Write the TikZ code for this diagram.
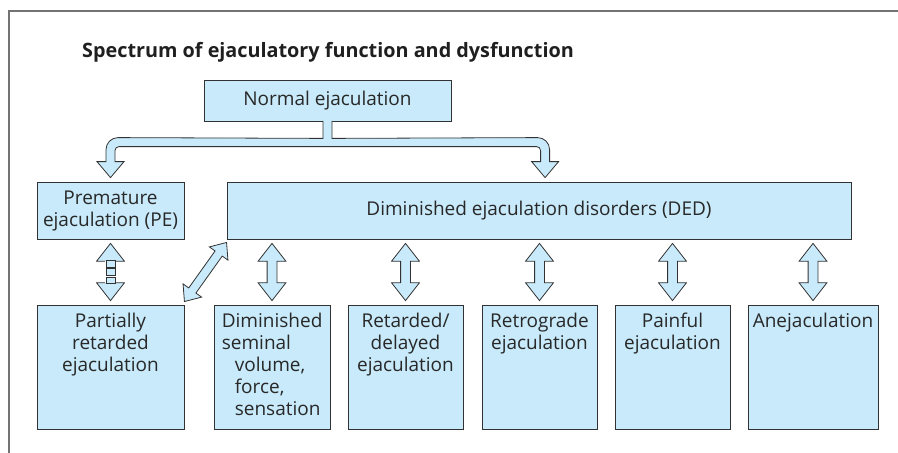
\documentclass[tikz,border=0pt]{standalone}
\usepackage{fontspec}
\setmainfont{Open Sans}
\usetikzlibrary{shapes.arrows,calc}
\definecolor{boxfill}{RGB}{200,234,250}
\definecolor{boxline}{RGB}{50,50,50}
\definecolor{framegray}{RGB}{115,115,115}
\definecolor{txt}{RGB}{40,40,40}
\newcommand\linkarrow[3][]{%
  \path let \p1=(#2), \p2=(#3),
    \n1={atan2(\y2-\y1,\x2-\x1)}, \n2={veclen(\x2-\x1,\y2-\y1)} in
    node[blockarrow,#1,minimum height=\n2,rotate=\n1] at ($(\p1)!0.5!(\p2)$) {};}
\begin{document}
\begin{tikzpicture}[x=1pt,y=-1pt,
  box/.style={draw=boxline, fill=boxfill, line width=0.8pt, inner sep=0pt, text=txt,
    font=\fontsize{19}{22}\selectfont, align=center},
  boxtext/.style={inner sep=0pt, text=txt, font=\fontsize{19}{22}\selectfont, anchor=north},
  blockarrow/.style={double arrow, draw=boxline, fill=boxfill, line width=0.8pt,
    inner xsep=0pt, inner ysep=4.5pt, minimum width=27pt,
    double arrow head extend=9pt, double arrow tip angle=76},
  diagarrow/.style={inner ysep=4pt, minimum width=22pt, double arrow head extend=7pt,
    double arrow tip angle=80},
  fork/.style={draw=boxline, fill=boxfill, line width=0.8pt, line join=miter}]
\useasboundingbox (0,0) rectangle (898,453);
% frame
\draw[framegray, line width=1.2pt] (9,453) -- (9,11) -- (898,11);
% title
\node[anchor=base west, inner sep=0pt, text=black!88,
  font=\fontsize{19.8}{22}\selectfont\bfseries] (title) at (82,57)
  {Spectrum of ejaculatory function and dysfunction};
% boxes
\node[box, minimum width=247, minimum height=41] (normal) at (327.5,100.5) {Normal ejaculation};
\node[box, minimum width=147, minimum height=57] (pe) at (110.5,210.5) {Premature\\ejaculation (PE)};
\node[box, minimum width=624, minimum height=57] (ded) at (539,210.5) {Diminished ejaculation disorders (DED)};
\node[box, minimum width=147, minimum height=124] (partial) at (110.5,367) {};
\node[box, minimum width=116, minimum height=124] (dimin) at (272,367) {};
\node[box, minimum width=115, minimum height=124] (retard) at (405.5,367) {};
\node[box, minimum width=115, minimum height=124] (retro) at (539.5,367) {};
\node[box, minimum width=115, minimum height=124] (pain) at (672.5,367) {};
\node[box, minimum width=130, minimum height=124] (anej) at (813,367) {};
% texts of the lower boxes
\node[boxtext, align=center] (tpartial) at ($(partial.north)+(0,8)$) {Partially\\retarded\\ejaculation};
\node[boxtext, align=left, anchor=north west] (tdimin) at ($(dimin.north west)+(8,8)$)
  {Diminished\\seminal\\\hspace*{13pt}volume,\\\hspace*{13pt}force,\\\hspace*{13pt}sensation};
\node[boxtext, align=center] (tretard) at ($(retard.north)+(0,8)$) {Retarded/\\delayed\\ejaculation};
\node[boxtext, align=center] (tretro) at ($(retro.north)+(0,8)$) {Retrograde\\ejaculation};
\node[boxtext, align=center] (tpain) at ($(pain.north)+(0,8)$) {Painful\\ejaculation};
\node[boxtext, align=center] (tanej) at ($(anej.north)+(0,8)$) {Anejaculation};
% fork arrow from Normal ejaculation
\coordinate (stem) at (normal.south);
\coordinate (forkL) at ($(pe.north)+(0,-4)$);
\coordinate (forkR) at ($(ded.north west)+(318.5,-4)$);
\path[fork] ($(stem)+(-4.5,-0.6)$) -- ($(stem)+(-4.5,17)$)
  -- ($(forkL)+(7.5,-40)$) arc[start angle=270, end angle=180, radius=12]
  -- ($(forkL)+(-4.5,-16)$) -- ($(forkL)+(-13.5,-16)$) -- (forkL)
  -- ($(forkL)+(13.5,-16)$) -- ($(forkL)+(4.5,-16)$)
  -- ($(forkL)+(4.5,-27)$) arc[start angle=180, end angle=270, radius=4]
  -- ($(forkR)+(-8.5,-31)$) arc[start angle=270, end angle=360, radius=4]
  -- ($(forkR)+(-4.5,-16)$) -- ($(forkR)+(-13.5,-16)$) -- (forkR)
  -- ($(forkR)+(13.5,-16)$) -- ($(forkR)+(4.5,-16)$)
  -- ($(forkR)+(4.5,-28)$) arc[start angle=0, end angle=-90, radius=12]
  -- ($(stem)+(4.5,17)$) -- ($(stem)+(4.5,-0.6)$);
% double arrows
\linkarrow[name=a1]{$(partial.north)+(0,-4)$}{$(pe.south)+(0,4)$}
\fill[white] ($(a1.center)+(-5.5,-11.3)$) rectangle ($(a1.center)+(5.5,11.3)$);
\foreach \ya/\yb in {-11.72/-5, -3.3/3.3, 5/11.72}
  \draw[draw=boxline, fill=boxfill, line width=0.8pt]
    ($(a1.center)+(-4.5,\ya)$) rectangle ($(a1.center)+(4.5,\yb)$);
\linkarrow[name=a0, diagarrow]{$(partial.north east)+(0,-3)$}{$(ded.south west)+(0,3)$}
\linkarrow[name=a2]{$(dimin.north)+(0,-4)$}{$(dimin.north |- ded.south)+(0,4)$}
\linkarrow[name=a3]{$(retard.north)+(0,-4)$}{$(retard.north |- ded.south)+(0,4)$}
\linkarrow[name=a4]{$(retro.north)+(0,-4)$}{$(retro.north |- ded.south)+(0,4)$}
\linkarrow[name=a5]{$(pain.north)+(0,-4)$}{$(pain.north |- ded.south)+(0,4)$}
\linkarrow[name=a6]{$(anej.north)+(0,-4)$}{$(anej.north |- ded.south)+(0,4)$}
\end{tikzpicture}
\end{document}
